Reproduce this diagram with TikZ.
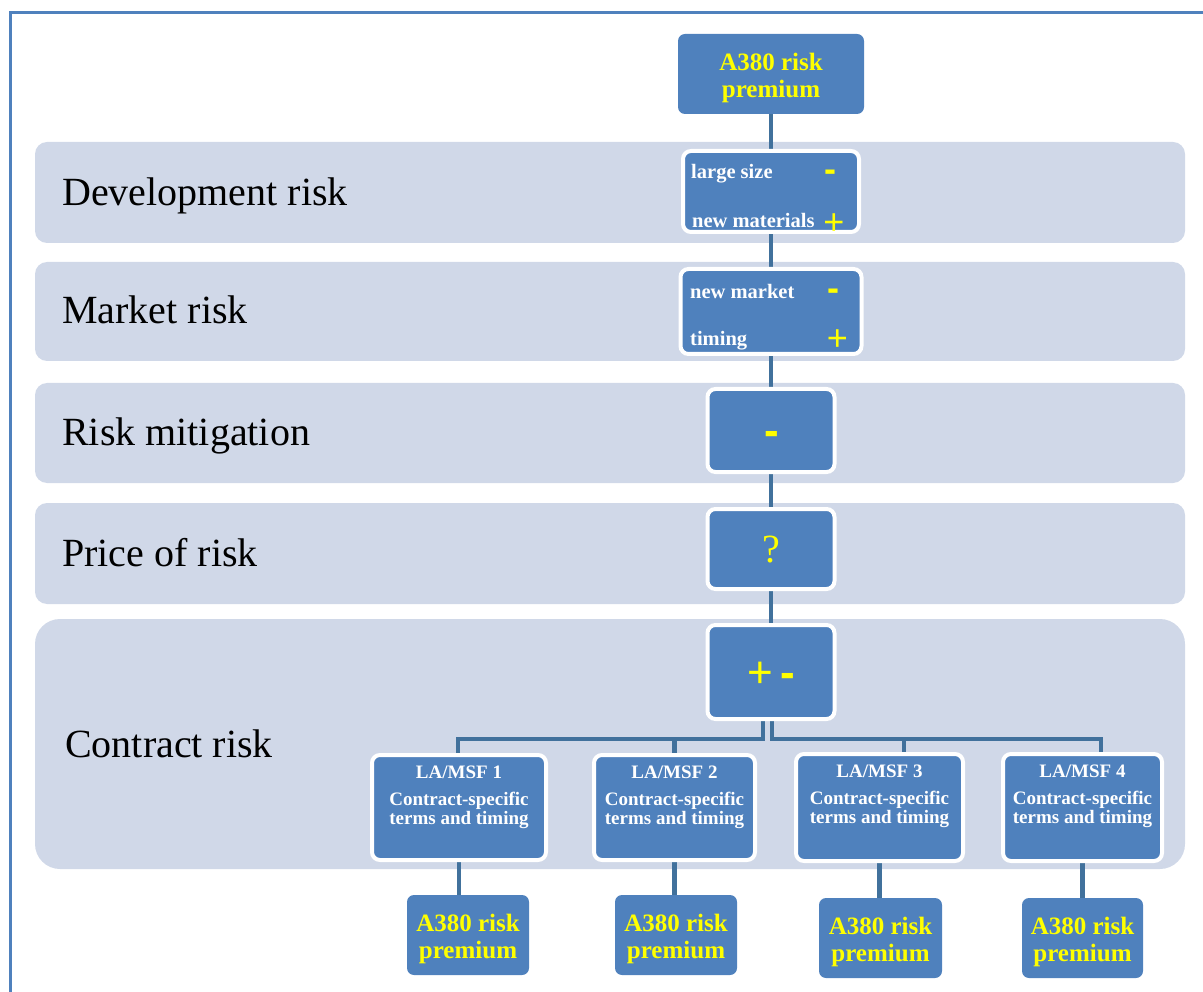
\documentclass[tikz,border=0pt]{standalone}
\usepackage{fontspec}
\setmainfont{Liberation Serif}
\newfontfamily\signfont{Liberation Sans}
\usetikzlibrary{positioning,backgrounds}

\definecolor{boxblue}{HTML}{4F81BD}
\definecolor{bandgray}{HTML}{D0D8E8}
\definecolor{linkblue}{HTML}{41719C}
\definecolor{signyellow}{HTML}{FFFF00}

% premium text, with a strut so both lines sit a little lower in the box
\newcommand{\premtext}{\rule{0pt}{25pt}A380 risk\\premium}

\tikzset{
  band/.style={fill=bandgray, rounded corners=12pt},
  risklabel/.style={anchor=base west, inner sep=0pt, font=\fontsize{40}{48}\selectfont},
  stagebox/.style={rectangle, rounded corners=8pt, fill=boxblue, draw=white,
                   line width=4pt, inner sep=0pt},
  premium/.style={rectangle, rounded corners=7pt, fill=boxblue, inner sep=0pt,
                  align=center, text=signyellow,
                  font=\bfseries\fontsize{25}{26.5}\selectfont},
  itemtxt/.style={anchor=base west, inner sep=0pt, text=white,
                  font=\bfseries\fontsize{20.5}{24}\selectfont},
  sign/.style={anchor=base, inner sep=0pt, text=signyellow,
               font=\signfont\fontsize{36}{40}\selectfont},
  minus/.style={sign, font=\signfont\bfseries\fontsize{36}{40}\selectfont},
  bigsign/.style={sign, font=\signfont\fontsize{44}{48}\selectfont},
  bigminus/.style={sign, font=\signfont\bfseries\fontsize{44}{48}\selectfont},
  lamsf/.style={inner sep=0pt, align=center, text=white,
                font=\bfseries\fontsize{19}{19}\selectfont},
  link/.style={draw=linkblue, line width=4.5pt},
  outerline/.style={draw=boxblue, line width=3pt}
}

\begin{document}
\begin{tikzpicture}[x=1pt, y=-1pt]
  \useasboundingbox (0,0) rectangle (1203,992);
  \draw[outerline] (10,992) |- (1203,13);

  % one grey band per kind of risk
  \begin{scope}[on background layer]
    \fill[band] (35,142) rectangle (1185,243);
    \fill[band] (35,262) rectangle (1185,361);
    \fill[band] (35,383) rectangle (1185,483);
    \fill[band] (35,503) rectangle (1185,604);
    \fill[band, rounded corners=25pt] (35,619) rectangle (1185,869);
  \end{scope}

  \node[risklabel] (ldev)   at (62,206) {Development risk};
  \node[risklabel] (lmkt)   at (62,324) {Market risk};
  \node[risklabel] (lmit)   at (62,446) {Risk mitigation};
  \node[risklabel] (lprice) at (62,566) {Price of risk};
  \node[risklabel] (lcon)   at (65,757) {Contract risk};

  % the central column of boxes
  \node[premium, minimum width=186pt, minimum height=80pt] (top) at (771,74) {\premtext};
  \node[stagebox, minimum width=176pt, minimum height=81pt] (dev) at (771,191.5) {};
  \node[stagebox, minimum width=181pt, minimum height=85pt] (mkt) at (771,311.5) {};
  \node[stagebox, minimum width=127pt, minimum height=83pt] (mit) at (771,430.5) {};
  \node[stagebox, minimum width=127pt, minimum height=80pt] (price) at (771,549) {};
  \node[stagebox, minimum width=127pt, minimum height=94pt] (con) at (771,672) {};

  \node[itemtxt] (size)   at (691,179) {large size};
  \node[itemtxt] (mat)    at (692,228) {new materials};
  \node[minus]   (sizesg) at (830,182) {-};
  \node[sign]    (matsg)  at (834,234.5) {+};
  \node[itemtxt] (newmkt) at (690,299) {new market};
  \node[itemtxt] (timing) at (690,346) {timing};
  \node[minus]   (newmktsg) at (833.5,301) {-};
  \node[sign]    (timingsg) at (837.5,351) {+};
  \node[bigminus] (mitsg) at (771.5,446) {-};
  \node[sign, font=\fontsize{40}{48}\selectfont] (pricesg) at (771,562) {?};
  \node[bigsign]  (conplus)  at (760.5,687) {+};
  \node[bigminus] (conminus) at (787.5,687) {-};

  % one box per contract
  \node[stagebox, minimum width=174pt, minimum height=105pt] (la1) at (459,807.5) {};
  \node[stagebox, minimum width=161pt, minimum height=105pt] (la2) at (674.5,807.5) {};
  \node[stagebox, minimum width=167pt, minimum height=107pt] (la3) at (879.5,807.5) {};
  \node[stagebox, minimum width=159pt, minimum height=107pt] (la4) at (1082.5,807.5) {};
  \node[lamsf, below=13pt of la1.north] (la1t) {LA/MSF 1\\[8pt]Contract-specific\\terms and timing};
  \node[lamsf, below=13pt of la2.north] (la2t) {LA/MSF 2\\[8pt]Contract-specific\\terms and timing};
  \node[lamsf, below=13pt of la3.north] (la3t) {LA/MSF 3\\[8pt]Contract-specific\\terms and timing};
  \node[lamsf, below=13pt of la4.north] (la4t) {LA/MSF 4\\[8pt]Contract-specific\\terms and timing};

  \node[premium, minimum width=122pt, minimum height=80pt] (prem1) at (468,935) {\premtext};
  \node[premium, minimum width=122pt, minimum height=80pt] (prem2) at (676,935) {\premtext};
  \node[premium, minimum width=123pt, minimum height=80pt] (prem3) at (880.5,938) {\premtext};
  \node[premium, minimum width=121pt, minimum height=80pt] (prem4) at (1082.5,938) {\premtext};

  % connectors, kept under the boxes
  \coordinate (busW) at (458,739);
  \coordinate (busE) at (1101,739);
  \begin{scope}[on background layer]
    \draw[link] (top.south) -- (dev.north);
    \draw[link] (dev.south) -- (mkt.north);
    \draw[link] (mkt.south) -- (mit.north);
    \draw[link] (mit.south) -- (price.north);
    \draw[link] (price.south) -- (con.north);
    \draw[link] ([xshift=-8pt]con.south) |- (busW) -- (busW |- la1.north);
    \draw[link] (la2.north) -- (la2.north |- busW);
    \draw[link] ([xshift=1pt]con.south) |- (busE) -- (busE |- la4.north);
    \draw[link] ([xshift=24.5pt]la3.north) -- ([xshift=24.5pt]la3.north |- busE);
    \draw[link] (la1.south) -- (la1.south |- prem1.north);
    \draw[link] (la2.south) -- (la2.south |- prem2.north);
    \draw[link] (la3.south) -- (la3.south |- prem3.north);
    \draw[link] (la4.south) -- (la4.south |- prem4.north);
  \end{scope}
\end{tikzpicture}
\end{document}
